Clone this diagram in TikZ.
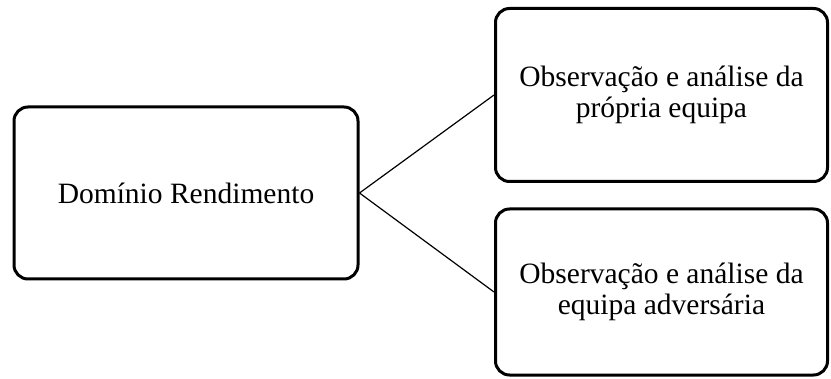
\documentclass[tikz,border=0pt]{standalone}
\usepackage{fontspec}
\setmainfont{Liberation Serif}

\begin{document}
\begin{tikzpicture}[x=1pt, y=1pt,
    box/.style={draw, line width=3pt, rounded corners=14pt, align=center,
        font=\fontsize{29.5}{31}\selectfont}]
    % Fix the margins
    \useasboundingbox (0, 0) rectangle (831, 378);

    % Draw the boxes
    \node[box, minimum width=344pt, minimum height=172pt] (dominio) at (186, 185) {Domínio Rendimento};
    \node[box, minimum width=332pt, minimum height=173pt] (propria) at (661.5, 283) {Observação e análise da\\própria equipa};
    \node[box, minimum width=332pt, minimum height=166pt] (adversaria) at (661.5, 86) {Observação e análise da\\equipa adversária};

    % Connect them
    \draw[line width=1.2pt] (dominio.east) -- (propria.west);
    \draw[line width=1.2pt] (dominio.east) -- (adversaria.west);
\end{tikzpicture}
\end{document}
